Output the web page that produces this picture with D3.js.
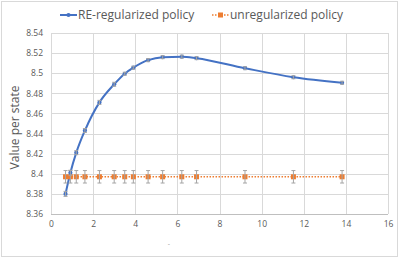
<!DOCTYPE html>
<html>
<head>
<meta charset="utf-8">
<script src="https://cdn.jsdelivr.net/npm/d3@7"></script>
<style>
  body { margin: 0; background: #fff; }
  text { font-family: "Open Sans", "Liberation Sans", sans-serif; }
</style>
</head>
<body>
<svg id="chart"></svg>
<script>
// x positions shared by both series
const xValues = [0.69, 0.92, 1.2, 1.61, 2.3, 3.0, 3.5, 3.91, 4.61, 5.3, 6.21, 6.91, 9.21, 11.51, 13.82];
// RE-regularized policy
const reValues = [8.380, 8.401, 8.421, 8.443, 8.471, 8.489, 8.4995, 8.5055, 8.513, 8.516, 8.5165, 8.515, 8.505, 8.496, 8.4905];
const reErr = [0.0025, 0.0025, 0.002, 0.002, 0.002, 0.002, 0.0015, 0.0015, 0.0015, 0.0015, 0.0015, 0.0015, 0.0015, 0.0015, 0.0015];
// unregularized policy (flat)
const unValues = [8.397, 8.397, 8.397, 8.397, 8.397, 8.397, 8.397, 8.397, 8.397, 8.397, 8.397, 8.397, 8.397, 8.397, 8.397];
const unErr = 0.0062;

const xTicks = [0, 2, 4, 6, 8, 10, 12, 14, 16];
const yTicks = [8.36, 8.38, 8.4, 8.42, 8.44, 8.46, 8.48, 8.5, 8.52, 8.54];
const seriesNames = ['RE-regularized policy', 'unregularized policy'];

const config = {
    width: 399, height: 258,
    margin: { top: 33, right: 11, bottom: 44, left: 51 }
};
const blue = '#4472C4', orange = '#ED7D31', errColor = '#A5A5A5';

const svg = d3.select('#chart')
    .attr('width', config.width)
    .attr('height', config.height);

// outer border of the chart area
svg.append('rect')
    .attr('x', 1.5).attr('y', 1.5)
    .attr('width', config.width - 3).attr('height', config.height - 3)
    .attr('fill', 'none').attr('stroke', '#d9d9d9');

const w = config.width - config.margin.left - config.margin.right;
const h = config.height - config.margin.top - config.margin.bottom;

const chart = svg.append('g')
    .attr('transform', `translate(${config.margin.left}, ${config.margin.top})`);

const xScale = d3.scaleLinear().domain([0, 16]).range([0, w]);
const yScale = d3.scaleLinear().domain([8.36, 8.54]).range([h, 0]);

// gridlines
chart.append('g').selectAll('line.hg')
    .data(yTicks)
    .join('line')
    .attr('x1', 0).attr('x2', w)
    .attr('y1', d => Math.round(yScale(d)) + 0.5)
    .attr('y2', d => Math.round(yScale(d)) + 0.5)
    .attr('stroke', '#d9d9d9');

chart.append('g').selectAll('line.vg')
    .data(xTicks)
    .join('line')
    .attr('y1', 0).attr('y2', h)
    .attr('x1', d => Math.round(xScale(d)) + 0.5)
    .attr('x2', d => Math.round(xScale(d)) + 0.5)
    .attr('stroke', '#d9d9d9');

// axes (labels only)
const yAxis = chart.append('g')
    .call(d3.axisLeft(yScale).tickValues(yTicks).tickSize(0).tickPadding(8)
        .tickFormat(d => d3.format('')(+d.toFixed(2))));
const xAxis = chart.append('g')
    .attr('transform', `translate(0, ${h})`)
    .call(d3.axisBottom(xScale).tickValues(xTicks).tickSize(0).tickPadding(7));
[xAxis, yAxis].forEach(a => {
    a.select('.domain').remove();
    a.selectAll('text').attr('fill', '#595959').style('font-size', '8.5px')
        .style('font-family', '"Open Sans", sans-serif');
});

// bottom axis line
chart.append('line')
    .attr('x1', 0).attr('x2', w)
    .attr('y1', Math.round(h) + 0.5).attr('y2', Math.round(h) + 0.5)
    .attr('stroke', '#bfbfbf');

// axis titles
svg.append('text')
    .attr('transform', `translate(19, ${config.margin.top + h / 2 + 4}) rotate(-90)`)
    .attr('text-anchor', 'middle')
    .attr('fill', '#595959')
    .style('font-size', '12px')
    .text('Value per state');
svg.append('text')
    .attr('x', 169).attr('y', 246)
    .attr('text-anchor', 'middle')
    .attr('fill', '#a0a0a0')
    .style('font-size', '7px')
    .text('-');

const reData = xValues.map((x, i) => ({ x, y: reValues[i], e: reErr[i] }));
const unData = xValues.map((x, i) => ({ x, y: unValues[i], e: unErr }));

const line = d3.line().x(d => xScale(d.x)).y(d => yScale(d.y));
const smooth = d3.line().curve(d3.curveMonotoneX).x(d => xScale(d.x)).y(d => yScale(d.y));

// unregularized series
chart.append('path')
    .datum(unData)
    .attr('d', line)
    .attr('fill', 'none')
    .attr('stroke', orange)
    .attr('stroke-width', 1.5)
    .attr('stroke-dasharray', '1.5,1.5');

// RE series line
chart.append('path')
    .datum(reData)
    .attr('d', smooth)
    .attr('fill', 'none')
    .attr('stroke', blue)
    .attr('stroke-width', 2);

function errorBars(data, cls) {
    const g = chart.append('g').attr('class', cls);
    g.selectAll('line.v').data(data).join('line')
        .attr('x1', d => xScale(d.x)).attr('x2', d => xScale(d.x))
        .attr('y1', d => yScale(d.y - d.e)).attr('y2', d => yScale(d.y + d.e))
        .attr('stroke', errColor).attr('stroke-width', 1);
    ['top', 'bot'].forEach(k => {
        g.selectAll('line.' + k).data(data).join('line')
            .attr('x1', d => xScale(d.x) - 2).attr('x2', d => xScale(d.x) + 2)
            .attr('y1', d => yScale(k === 'top' ? d.y + d.e : d.y - d.e))
            .attr('y2', d => yScale(k === 'top' ? d.y + d.e : d.y - d.e))
            .attr('stroke', errColor).attr('stroke-width', 1);
    });
}

// markers
chart.append('g').selectAll('rect')
    .data(unData)
    .join('rect')
    .attr('x', d => xScale(d.x) - 2.5).attr('y', d => yScale(d.y) - 2.5)
    .attr('width', 5).attr('height', 5)
    .attr('fill', orange);
errorBars(unData, 'err-un');

chart.append('g').selectAll('circle')
    .data(reData)
    .join('circle')
    .attr('cx', d => xScale(d.x)).attr('cy', d => yScale(d.y))
    .attr('r', 2.1)
    .attr('fill', blue);
errorBars(reData, 'err-re');

// legend
const legend = svg.append('g').attr('transform', 'translate(0, 15)');
const items = [
    { name: seriesNames[0], color: blue, x0: 60, dash: null, sq: false },
    { name: seriesNames[1], color: orange, x0: 212, dash: '1.5,1.5', sq: true }
];
items.forEach(it => {
    legend.append('line')
        .attr('x1', it.x0).attr('x2', it.x0 + 17)
        .attr('y1', 0).attr('y2', 0)
        .attr('stroke', it.color)
        .attr('stroke-width', it.dash ? 1.5 : 2)
        .attr('stroke-dasharray', it.dash);
    if (it.sq) {
        legend.append('rect').attr('x', it.x0 + 6).attr('y', -2.5)
            .attr('width', 5).attr('height', 5).attr('fill', it.color);
    } else {
        legend.append('circle').attr('cx', it.x0 + 8.5).attr('cy', 0)
            .attr('r', 2.1).attr('fill', it.color);
    }
    legend.append('text')
        .attr('x', it.x0 + 18).attr('y', 4)
        .attr('fill', '#595959')
        .style('font-size', '12px')
        .text(it.name);
});
</script>
</body>
</html>
